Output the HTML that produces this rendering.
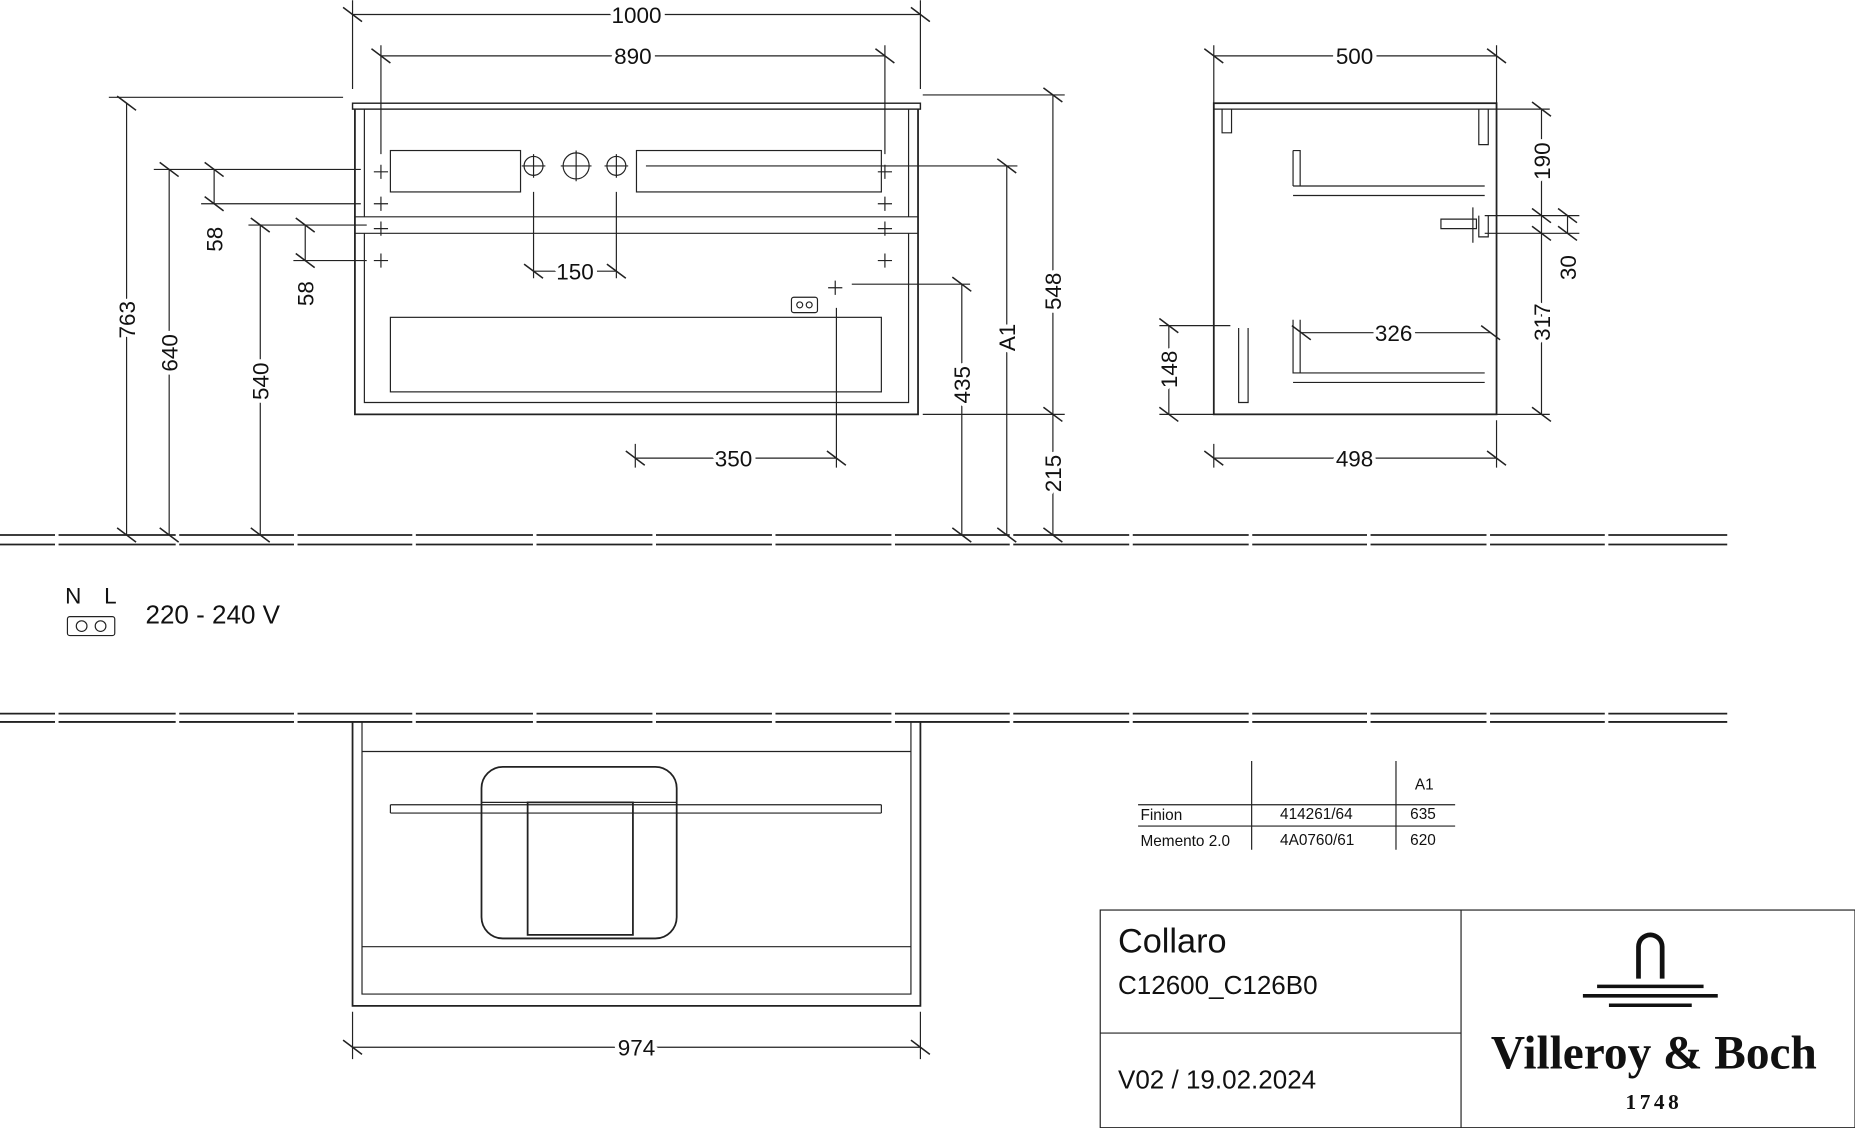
<!DOCTYPE html>
<html><head><meta charset="utf-8"><style>
html,body{margin:0;padding:0;background:#fff;width:1855px;height:1128px;overflow:hidden}
svg{display:block}
text{font-family:"Liberation Sans",sans-serif;fill:#111}
.d text{stroke:#fff;stroke-width:7px;paint-order:stroke;stroke-linejoin:round}
</style></head><body>
<svg width="1855" height="1128" viewBox="0 0 1568 953" xmlns="http://www.w3.org/2000/svg">
<g stroke="#222" stroke-width="1" fill="none">
<g stroke-width="1.5">
<path d="M0 452 H1460 M0 460 H1460"/>
<path d="M0 603 H1460 M0 610 H1460"/>
</g>
<g stroke="#fff" stroke-width="3">
<path d="M48 451v10M150 451v10M250 451v10M350 451v10M452 451v10M553 451v10M654 451v10M755 451v10M855 451v10M956 451v10M1057 451v10M1157 451v10M1258 451v10M1358 451v10"/>
<path d="M48 602v10M150 602v10M250 602v10M350 602v10M452 602v10M553 602v10M654 602v10M755 602v10M855 602v10M956 602v10M1057 602v10M1157 602v10M1258 602v10M1358 602v10"/>
</g>
<rect x="298" y="87" width="480" height="5" stroke-width="1.2"/>
<path d="M300 92 V350 H776 V92" stroke-width="1.5"/>
<path d="M308 92 V183 H768 V92 M300 183 H776 M300 197 H776 M308 197 V340 H768 V197"/>
<rect x="330" y="127" width="110" height="35"/>
<rect x="538" y="127" width="207" height="35"/>
<rect x="330" y="268" width="415" height="63"/>
<circle cx="451" cy="140" r="8"/><circle cx="487" cy="140" r="11"/><circle cx="521" cy="140" r="8"/>
<path d="M441 140h20M451 130v20M474 140h26M487 127v26M511 140h20M521 130v20"/>
<rect x="669" y="251" width="22" height="13" rx="2"/>
<circle cx="676" cy="257.5" r="2.5"/><circle cx="684" cy="257.5" r="2.5"/>
<path d="M316 145h12M322 139v12M316 172h12M322 166v12M316 193h12M322 187v12M316 220h12M322 214v12M742 145h12M748 139v12M742 172h12M748 166v12M742 193h12M748 187v12M742 220h12M748 214v12M700 243h12M706 237v12"/>
<path d="M298 12H778M298 0V75M778 0V75M322 47H748M322 38V130M748 38V130"/>
<path d="M107 87V452M92 82H290M143 143V452M130 143H305M181 143V172M170 143H305M170 172H305M220 190V452M210 190H310M258 190V220M248 220H310M451 162V235M521 162V235M451 229H521M537 387H707M537 375V395M707 260V395M813 240V452M720 240H820M851 140V452M546 140H860M890 80V350M780 80H900M890 350V452M780 350H900"/>
<g stroke-width="1.3">
<path d="M290 6l16 12M770 6l16 12M314 41l16 12M740 41l16 12M99 81l16 12M99 446l16 12M135 137l16 12M135 446l16 12M173 137l16 12M173 166l16 12M212 184l16 12M212 446l16 12M250 184l16 12M250 214l16 12M443 223l16 12M513 223l16 12M529 381l16 12M699 381l16 12M805 234l16 12M805 446l16 12M843 134l16 12M843 446l16 12M882 74l16 12M882 344l16 12M882 446l16 12"/>
</g>
<rect x="1026" y="87" width="239" height="263" stroke-width="1.5"/>
<path d="M1026 92H1265M1033 92v20h8V92M1250 92v30h8V92M1093 127v30M1093 165H1255M1093 157H1255M1093 127h6v30M1250 182v18h8v-18M1218 185h30v8h-30zM1245 175v30M1093 270v45h6V270M1093 315H1255M1093 323H1255M1047 277V340h8V277"/>
<path d="M1026 47H1265M1026 38V92M1265 38V92M1026 387H1265M1026 375V395M1265 355V395M1303 92V350M1265 92H1310M1255 182H1335M1255 197H1335M1265 350H1310M1325 182V197M988 275V350M980 275H1040M980 350H1026M1100 281H1260"/>
<g stroke-width="1.3"><path d="M1018 41l16 12M1257 41l16 12M1018 381l16 12M1257 381l16 12M1295 86l16 12M1295 176l16 12M1295 191l16 12M1295 344l16 12M1317 176l16 12M1317 191l16 12M980 269l16 12M980 344l16 12M1092 275l16 12M1252 275l16 12"/></g>
<path d="M298 610V850H778V610" stroke-width="1.5"/>
<path d="M306 610V840H770V610M306 635H770M330 680H745M330 687H745M330 680V687M745 680V687M306 800H770M298 850H778"/>
<rect x="407" y="648" width="165" height="145" rx="18" stroke-width="1.5"/>
<path d="M446 678H535V790H446Z" stroke-width="1.5"/>
<path d="M407 678H572"/>
<path d="M298 885H778M298 855V895M778 855V895"/>
<g stroke-width="1.3"><path d="M290 879l16 12M770 879l16 12"/></g>
<rect x="57" y="521" width="40" height="16" rx="2"/>
<circle cx="69" cy="529" r="4.5"/><circle cx="85" cy="529" r="4.5"/>
<path d="M962 680H1230M962 698H1230M1058 643V718M1180 643V718"/>
<rect x="930" y="769" width="638" height="184"/>
<path d="M1235 769V953M930 873H1235"/>
</g>
<g class="d" font-size="19" text-anchor="middle">
<text x="538" y="19">1000</text>
<text x="535" y="54">890</text>
<text x="486" y="236">150</text>
<text x="620" y="394">350</text>
<text x="1145" y="54">500</text>
<text x="1145" y="394">498</text>
<text x="1178" y="288">326</text>
<text x="538" y="892">974</text>
<text transform="translate(114,270) rotate(-90)">763</text>
<text transform="translate(150,298) rotate(-90)">640</text>
<text transform="translate(188,202) rotate(-90)">58</text>
<text transform="translate(227,322) rotate(-90)">540</text>
<text transform="translate(265,248) rotate(-90)">58</text>
<text transform="translate(820,325) rotate(-90)">435</text>
<text transform="translate(858,285) rotate(-90)">A1</text>
<text transform="translate(897,246) rotate(-90)">548</text>
<text transform="translate(897,400) rotate(-90)">215</text>
<text transform="translate(1310,136) rotate(-90)">190</text>
<text transform="translate(1332,226) rotate(-90)">30</text>
<text transform="translate(1310,272) rotate(-90)">317</text>
<text transform="translate(995,312) rotate(-90)">148</text>
</g>
<text x="55" y="510" font-size="19">N</text><text x="88" y="510" font-size="19">L</text>
<text x="123" y="527" font-size="22">220 - 240 V</text>
<g font-size="13">
<text x="1196" y="667">A1</text>
<text x="964" y="693">Finion</text><text x="1082" y="692">414261/64</text><text x="1192" y="692">635</text>
<text x="964" y="715">Memento 2.0</text><text x="1082" y="714">4A0760/61</text><text x="1192" y="714">620</text>
</g>
<text x="945" y="805" font-size="29">Collaro</text>
<text x="945" y="840" font-size="22">C12600_C126B0</text>
<text x="945" y="920" font-size="22">V02 / 19.02.2024</text>
<text x="1398" y="903" font-size="40" text-anchor="middle" font-weight="bold" style="font-family:'Liberation Serif',serif">Villeroy &amp; Boch</text>
<text x="1398" y="937" font-size="18" text-anchor="middle" letter-spacing="3" font-weight="bold" style="font-family:'Liberation Serif',serif">1748</text>
<g fill="#111" stroke="none">
<path d="M1383 827V800a12 12 0 0 1 24 0V827h-4V800a8 8 0 0 0-16 0V827Z"/>
<path d="M1350 832H1440v3H1350Z M1338 840H1452v3H1338Z M1360 848H1430v3H1360Z"/>
</g>
</svg>
</body></html>
